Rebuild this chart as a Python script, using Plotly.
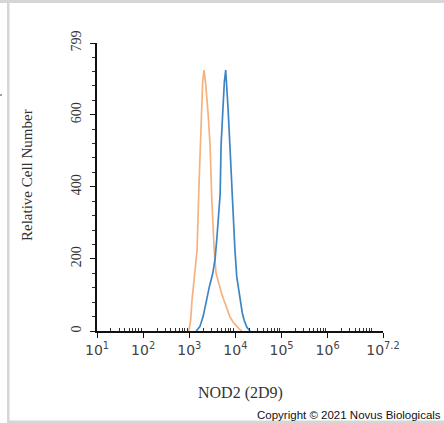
import plotly.graph_objects as go

# ---- data ----
# orange (control) histogram: log10 intensity and relative cell number
orange_log = [2.99, 3.03, 3.06, 3.12, 3.17, 3.21, 3.25, 3.29, 3.32, 3.36, 3.41, 3.45, 3.49, 3.54, 3.58, 3.64, 3.70, 3.75, 3.81, 3.88, 3.95, 4.01, 4.08, 4.14]
orange_cnt = [0, 30, 86, 160, 225, 400, 560, 690, 724, 680, 600, 517, 363, 225, 161, 130, 105, 86, 62, 40, 25, 15, 6, 0]

# blue (NOD2 2D9) histogram
blue_log = [3.15, 3.19, 3.23, 3.30, 3.37, 3.44, 3.51, 3.56, 3.60, 3.64, 3.67, 3.69, 3.73, 3.76, 3.79, 3.81, 3.84, 3.88, 3.93, 3.99, 4.03, 4.10, 4.15, 4.19, 4.25, 4.32]
blue_cnt = [0, 5, 12, 40, 86, 125, 160, 200, 260, 320, 380, 517, 620, 690, 724, 690, 620, 517, 363, 225, 150, 86, 50, 30, 10, 0]

x_tick_exp = [1, 2, 3, 4, 5, 6, 7.2]
x_tick_text = ["10<sup>1</sup>", "10<sup>2</sup>", "10<sup>3</sup>", "10<sup>4</sup>",
               "10<sup>5</sup>", "10<sup>6</sup>", "10<sup>7.2</sup>"]
y_ticks = [0, 200, 400, 600, 799]

x_title = "NOD2 (2D9)"
y_title = "Relative Cell Number"
copyright_text = "Copyright © 2021 Novus Biologicals"

ORANGE = "#f5b27e"
BLUE = "#3d86c6"

W, H = 444, 423
L, R, T, B = 97, 61, 43, 92
PW, PH = W - L - R, H - T - B


def px(xp):
    return (xp - L) / PW


def py(yp):
    return (H - B - yp) / PH


fig = go.Figure()
fig.add_trace(go.Scatter(x=[10 ** v for v in orange_log], y=orange_cnt, mode="lines",
                         line=dict(color=ORANGE, width=1.7), showlegend=False))
fig.add_trace(go.Scatter(x=[10 ** v for v in blue_log], y=blue_cnt, mode="lines",
                         line=dict(color=BLUE, width=1.7), showlegend=False))

minor_x = [k * 10 ** d for d in range(1, 8) for k in range(2, 10) if k * 10 ** d < 10 ** 7.2]

fig.update_xaxes(type="log", range=[1, 7.2], showline=True, linecolor="#111", linewidth=1.5,
                 showgrid=False, zeroline=False,
                 tickmode="array", tickvals=[10 ** e for e in x_tick_exp], ticktext=x_tick_text,
                 ticks="outside", ticklen=5, tickwidth=1.3, tickcolor="#111",
                 tickfont=dict(family="DejaVu Sans", size=14, color="#444"),
                 minor=dict(tickmode="array", tickvals=minor_x, ticks="inside", ticklen=3,
                            tickwidth=1, tickcolor="#333", showgrid=False))
fig.update_yaxes(range=[0, 799], showline=True, linecolor="#111", linewidth=1.5,
                 showgrid=False, zeroline=False,
                 tickmode="array", tickvals=y_ticks, ticktext=[str(v) for v in y_ticks],
                 ticks="outside", ticklen=5, tickwidth=1.3, tickcolor="#111", tickangle=-90,
                 tickfont=dict(family="Liberation Serif", size=14, color="#333"),
                 ticklabelstandoff=4,
                 minor=dict(tickmode="linear", tick0=0, dtick=40, ticks="outside", ticklen=3,
                            tickwidth=1, tickcolor="#333", showgrid=False))

fig.add_annotation(text=y_title, x=px(27), y=py(175), xref="paper", yref="paper",
                   textangle=-90, showarrow=False, xanchor="center", yanchor="middle",
                   font=dict(family="Liberation Serif", size=15, color="#333"))
fig.add_annotation(text=x_title, x=px(240), y=py(393), xref="paper", yref="paper",
                   showarrow=False, xanchor="center", yanchor="middle",
                   font=dict(family="Liberation Serif", size=16, color="#333"))
fig.add_annotation(text=copyright_text, x=px(443), y=py(415), xref="paper", yref="paper",
                   showarrow=False, xanchor="right", yanchor="middle",
                   font=dict(family="Liberation Sans", size=11.5, color="#111"))

frame = "#d6d6d6"
shapes = [
    dict(type="rect", xref="paper", yref="paper", x0=px(0), x1=px(W), y0=py(3), y1=py(0),
         fillcolor=frame, line=dict(width=0), layer="below"),
    dict(type="rect", xref="paper", yref="paper", x0=px(7), x1=px(9.5), y0=py(H), y1=py(3),
         fillcolor=frame, line=dict(width=0), layer="below"),
    dict(type="rect", xref="paper", yref="paper", x0=px(7), x1=px(W), y0=py(H), y1=py(420.5),
         fillcolor=frame, line=dict(width=0), layer="below"),
    dict(type="line", xref="paper", yref="paper", x0=px(0), x1=px(2), y0=py(95), y1=py(95),
         line=dict(color="#444", width=1)),
]
fig.update_layout(width=W, height=H, margin=dict(l=L, r=R, t=T, b=B, autoexpand=False),
                  paper_bgcolor="white", plot_bgcolor="white", shapes=shapes)

fig.write_html("out.html", config={"displayModeBar": False},
               post_script="document.body.style.margin='0';document.body.style.overflow='hidden';")
